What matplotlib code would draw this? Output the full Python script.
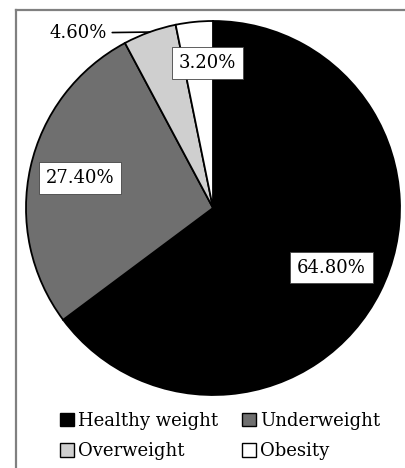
import numpy as np
import matplotlib.pyplot as plt
from matplotlib.lines import Line2D
from matplotlib.patches import Patch

# Данные
categories = ['Healthy weight', 'Underweight', 'Overweight', 'Obesity']
values = [64.8, 27.4, 4.6, 3.2]
colors = ['#000000', '#6f6f6f', '#cfcfcf', '#ffffff']

plt.rcParams['font.family'] = 'DejaVu Serif'

fig = plt.figure(figsize=(4.05, 4.68), dpi=100)
ax = fig.add_axes([0, 0, 1, 1])

cx, cy, r = 213, 260, 187
wedges, _ = ax.pie(values, colors=colors, startangle=90, counterclock=False,
                   center=(cx, cy), radius=r,
                   wedgeprops=dict(edgecolor='black', linewidth=1.3))
ax.set_xlim(0, 405)
ax.set_ylim(0, 468)
ax.set_aspect('equal')
ax.axis('off')

# подписи процентов
dist = [0.71, 0.73, None, 0.78]
xshift = [0, 0, 0, 9]
for w, v, d, dx in zip(wedges, values, dist, xshift):
    ang = np.deg2rad((w.theta1 + w.theta2) / 2)
    if d is None:
        ex, ey = cx + r * np.cos(ang), cy + r * np.sin(ang)
        ax.annotate(f'{v:.2f}%', xy=(ex, ey), xytext=(78, 435),
                    ha='center', va='center', fontsize=13,
                    arrowprops=dict(arrowstyle='-', color='black', lw=1.2,
                                    shrinkA=2, shrinkB=0))
        continue
    tx, ty = cx + d * r * np.cos(ang) + dx, cy + d * r * np.sin(ang)
    ax.text(tx, ty, f'{v:.2f}%', ha='center', va='center', fontsize=13,
            bbox=dict(boxstyle='square,pad=0.38', facecolor='white',
                      edgecolor='#444444', linewidth=0.6))

# легенда (по строкам, как в оригинале)
order = [0, 2, 1, 3]
handles = [Patch(facecolor=colors[i], edgecolor='black', linewidth=1.0) for i in order]
labels = [categories[i] for i in order]
fig.legend(handles, labels, ncol=2, frameon=False, fontsize=13,
           loc='center', bbox_to_anchor=(0.543, 0.068),
           handlelength=0.8, handleheight=0.8, handletextpad=0.2,
           columnspacing=1.3, labelspacing=0.7)

# рамка
fig.add_artist(Line2D([16 / 405, 16 / 405], [0, 1 - 10 / 468], color='#808080', lw=1.6))
fig.add_artist(Line2D([16 / 405, 1], [1 - 10 / 468, 1 - 10 / 468], color='#808080', lw=1.6))

plt.savefig('out.png', dpi=100)
